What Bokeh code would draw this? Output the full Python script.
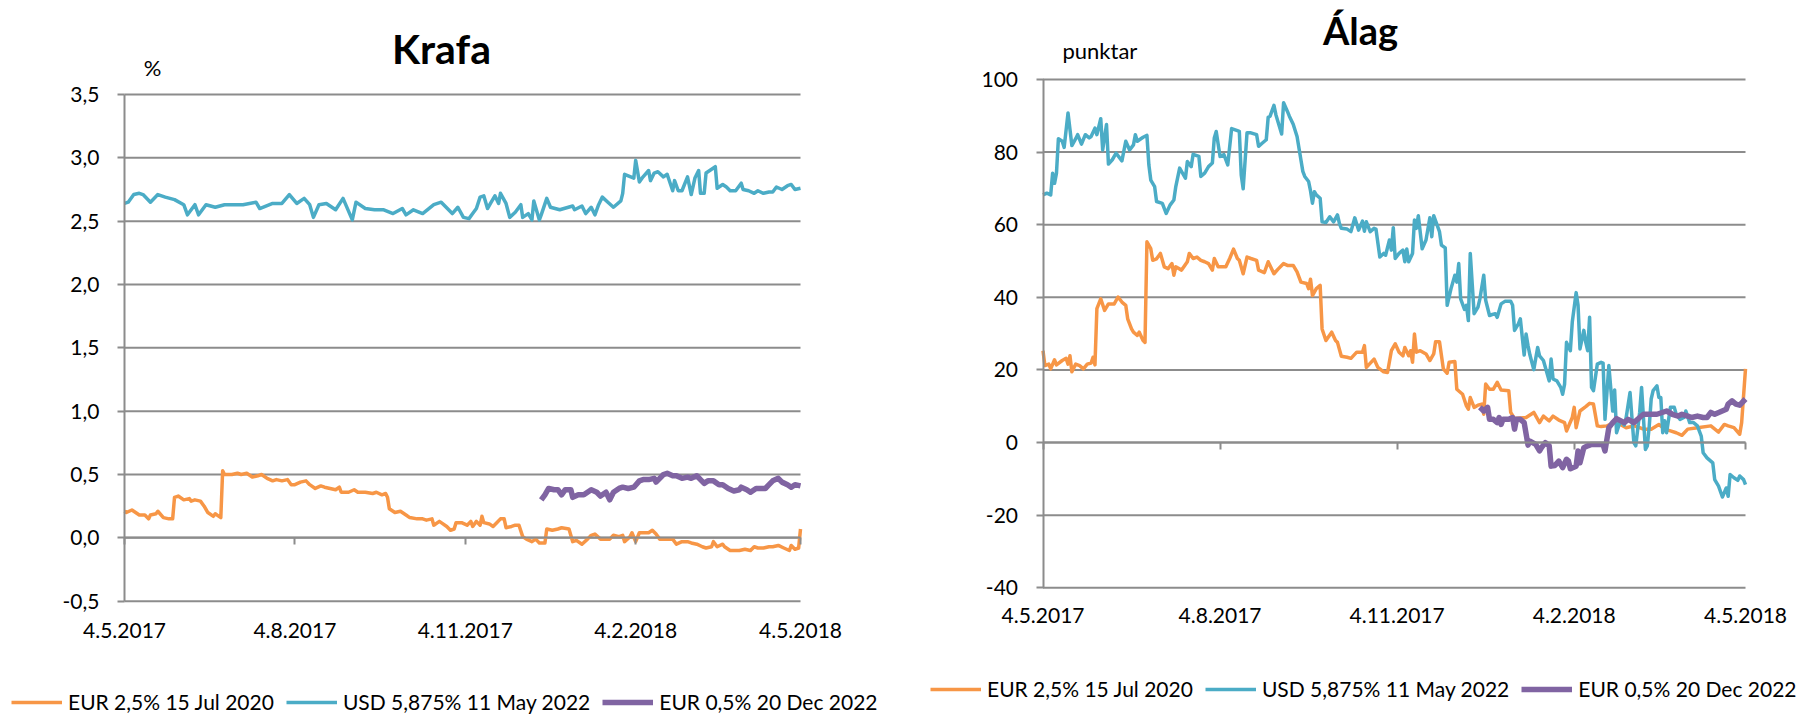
import pandas as pd
from bokeh.plotting import figure
from bokeh.models import Range1d, FixedTicker, LinearAxis, Legend, LegendItem, Label
from bokeh.layouts import row
from bokeh.embed import file_html
from bokeh.resources import INLINE

# ---------------- data ----------------
BASE_DATE = "2017-05-04"
x_tick_labels = ["4.5.2017", "4.8.2017", "4.11.2017", "4.2.2018", "4.5.2018"]

series_names = ["EUR 2,5% 15 Jul 2020", "USD 5,875% 11 May 2022", "EUR 0,5% 20 Dec 2022"]

krafa_y_ticks = [-0.5, 0.0, 0.5, 1.0, 1.5, 2.0, 2.5, 3.0, 3.5]
krafa_y_labels = ["-0,5", "0,0", "0,5", "1,0", "1,5", "2,0", "2,5", "3,0", "3,5"]
alag_y_ticks = [-40, -20, 0, 20, 40, 60, 80, 100]
alag_y_labels = ["-40", "-20", "0", "20", "40", "60", "80", "100"]

# Krafa (yield, %) - days after 4.5.2017
krafa_usd_day = [0, 2, 5, 8, 10, 14, 18, 22, 27, 32, 34, 38, 40, 44, 49, 54, 59, 64, 71, 73, 80, 85, 89, 93,
                 97, 100, 102, 105, 109, 114, 118, 123, 125, 130, 135, 140, 145, 150, 152, 156, 161, 167, 171,
                 177, 180, 183, 186, 188, 190, 192, 194, 196, 198, 200, 202, 203, 206, 208, 211, 214, 215, 218,
                 220, 221, 224, 225, 228, 230, 235, 242, 243, 247, 249, 252, 254, 256, 258, 261, 264, 268, 269,
                 270, 275, 276, 278, 280, 283, 284, 286, 288, 291, 293, 296, 297, 299, 301, 304, 306, 308, 310,
                 311, 313, 314, 319, 320, 323, 325, 327, 330, 333, 334, 337, 340, 342, 345, 348, 350, 352, 355,
                 358, 360, 362, 365]
krafa_usd = [2.64, 2.65, 2.71, 2.72, 2.71, 2.65, 2.71, 2.69, 2.67, 2.63, 2.55, 2.63, 2.55, 2.63, 2.61, 2.63,
             2.63, 2.63, 2.65, 2.60, 2.64, 2.64, 2.71, 2.64, 2.68, 2.63, 2.53, 2.63, 2.64, 2.59, 2.68, 2.51,
             2.65, 2.60, 2.59, 2.59, 2.56, 2.60, 2.55, 2.59, 2.56, 2.63, 2.65, 2.56, 2.61, 2.53, 2.52, 2.56,
             2.60, 2.69, 2.70, 2.60, 2.65, 2.70, 2.64, 2.72, 2.64, 2.53, 2.57, 2.63, 2.53, 2.56, 2.51, 2.66,
             2.51, 2.55, 2.68, 2.61, 2.59, 2.62, 2.59, 2.62, 2.56, 2.61, 2.55, 2.63, 2.69, 2.65, 2.61, 2.66,
             2.72, 2.87, 2.84, 2.98, 2.81, 2.85, 2.90, 2.82, 2.88, 2.89, 2.85, 2.87, 2.74, 2.82, 2.74, 2.74,
             2.85, 2.71, 2.84, 2.90, 2.72, 2.72, 2.88, 2.93, 2.76, 2.79, 2.77, 2.74, 2.74, 2.80, 2.75, 2.74,
             2.72, 2.74, 2.72, 2.73, 2.73, 2.77, 2.75, 2.78, 2.79, 2.75, 2.76]

krafa_eur20_day = [0, 1, 4, 6, 8, 11, 13, 14, 17, 18, 21, 24, 26, 27, 29, 32, 35, 36, 38, 41, 43, 45, 48, 49,
                   51, 52, 53, 54, 58, 61, 63, 66, 69, 72, 74, 77, 80, 82, 85, 88, 90, 92, 95, 98, 100, 103,
                   106, 108, 111, 114, 116, 117, 121, 124, 126, 130, 134, 136, 139, 141, 142, 143, 146, 149,
                   152, 154, 158, 161, 163, 166, 167, 170, 171, 174, 176, 178, 179, 182, 185, 187, 188, 190,
                   192, 193, 194, 197, 199, 201, 203, 205, 206, 209, 211, 213, 215, 217, 220, 222, 224, 227,
                   228, 231, 234, 236, 240, 242, 244, 247, 250, 252, 254, 257, 260, 262, 264, 267, 269, 270,
                   273, 274, 276, 278, 280, 283, 285, 287, 289, 296, 298, 301, 304, 306, 309, 312, 314, 317,
                   318, 320, 323, 324, 327, 330, 332, 335, 338, 340, 342, 345, 348, 350, 353, 356, 359, 360,
                   362, 364, 365]
krafa_eur20 = [0.21, 0.20, 0.22, 0.20, 0.18, 0.18, 0.15, 0.18, 0.19, 0.21, 0.16, 0.15, 0.15, 0.32, 0.33, 0.30,
               0.31, 0.29, 0.30, 0.29, 0.25, 0.20, 0.17, 0.19, 0.17, 0.16, 0.53, 0.50, 0.50, 0.51, 0.50, 0.51,
               0.48, 0.49, 0.50, 0.47, 0.45, 0.46, 0.45, 0.46, 0.42, 0.42, 0.44, 0.45, 0.42, 0.39, 0.41, 0.40,
               0.39, 0.38, 0.40, 0.36, 0.36, 0.38, 0.36, 0.36, 0.35, 0.36, 0.34, 0.35, 0.32, 0.23, 0.20, 0.21,
               0.18, 0.16, 0.15, 0.15, 0.14, 0.15, 0.10, 0.13, 0.12, 0.09, 0.06, 0.07, 0.12, 0.12, 0.10, 0.13,
               0.09, 0.13, 0.10, 0.17, 0.12, 0.11, 0.09, 0.12, 0.15, 0.15, 0.08, 0.09, 0.10, 0.10, 0.01, -0.01,
               -0.03, -0.01, -0.04, -0.04, 0.07, 0.06, 0.07, 0.08, 0.07, -0.03, -0.02, -0.05, -0.01, 0.02, 0.03,
               -0.01, -0.01, -0.01, 0.02, 0.01, 0.02, -0.03, 0.01, 0.04, -0.03, 0.04, 0.04, 0.04, 0.06, 0.03,
               -0.01, -0.01, -0.05, -0.03, -0.03, -0.04, -0.05, -0.07, -0.08, -0.07, -0.03, -0.07, -0.05, -0.07,
               -0.10, -0.10, -0.10, -0.09, -0.10, -0.07, -0.08, -0.08, -0.07, -0.07, -0.06, -0.08, -0.10, -0.06,
               -0.09, -0.08, 0.07]

krafa_eur22_day = [225, 227, 229, 232, 234, 236, 238, 241, 242, 245, 248, 250, 252, 255, 257, 260, 262, 264,
                   267, 269, 272, 275, 278, 280, 283, 286, 287, 289, 291, 293, 296, 298, 301, 304, 306, 309,
                   311, 313, 315, 318, 321, 323, 326, 329, 332, 333, 336, 338, 341, 343, 346, 348, 350, 353,
                   355, 358, 360, 362, 365]
krafa_eur22 = [0.30, 0.34, 0.39, 0.38, 0.38, 0.34, 0.38, 0.38, 0.32, 0.34, 0.34, 0.36, 0.38, 0.36, 0.33, 0.36,
               0.30, 0.36, 0.39, 0.40, 0.39, 0.40, 0.45, 0.46, 0.46, 0.47, 0.44, 0.47, 0.50, 0.51, 0.49, 0.49,
               0.47, 0.48, 0.47, 0.49, 0.46, 0.43, 0.45, 0.45, 0.42, 0.42, 0.39, 0.37, 0.38, 0.40, 0.38, 0.36,
               0.39, 0.39, 0.39, 0.42, 0.45, 0.47, 0.44, 0.42, 0.40, 0.42, 0.41]

# Álag (spread, points)
alag_usd_day = [0, 2, 4, 5, 6, 7, 8, 10, 11, 13, 15, 17, 18, 20, 22, 24, 25, 27, 28, 30, 31, 33, 34, 36, 38,
                41, 43, 45, 47, 48, 49, 52, 54, 55, 56, 58, 59, 62, 64, 66, 68, 69, 71, 74, 75, 77, 78, 81,
                82, 84, 86, 88, 89, 90, 92, 94, 96, 98, 101, 102, 103, 104, 106, 108, 111, 112, 114, 116,
                117, 118, 120, 121, 124, 125, 127, 128, 130, 132, 134, 135, 136, 138, 139, 140, 141, 142,
                144, 145, 147, 149, 151, 153, 154, 155, 158, 160, 162, 164, 166, 167, 168, 170, 172, 173,
                175, 177, 178, 180, 181, 182, 183, 185, 187, 188, 189, 190, 192, 193, 194, 195, 197, 199,
                201, 202, 203, 206, 207, 209, 210, 212, 214, 215, 216, 217, 219, 220, 221, 222, 224, 226,
                227, 229, 230, 232, 233, 235, 236, 238, 240, 243, 244, 245, 247, 248, 250, 251, 252, 253,
                255, 257, 258, 260, 263, 264, 265, 267, 269, 270, 271, 272, 274, 275, 277, 278, 279, 281,
                282, 283, 284, 285, 286, 288, 290, 291, 292, 294, 296, 297, 298, 300, 302, 303, 305, 307,
                308, 310, 311, 313, 314, 315, 316, 317, 319, 320, 321, 322, 323, 324, 326, 328, 329, 331,
                333, 334, 336, 338, 340, 342, 343, 345, 348, 349, 351, 353, 355, 356, 357, 359, 361, 362,
                364, 365]
alag_usd = [68.2, 68.7, 68.2, 74.2, 71.4, 74.2, 83.7, 83.0, 81.3, 90.8, 81.8, 83.7, 84.8, 82.2, 84.8, 83.9,
            84.3, 86.6, 84.8, 89.2, 80.6, 87.6, 76.7, 77.9, 79.7, 77.6, 83.0, 80.6, 82.0, 84.8, 83.0, 84.1,
            84.6, 76.5, 72.3, 70.5, 66.4, 65.9, 63.1, 65.4, 66.8, 70.5, 75.6, 72.8, 77.4, 76.0, 79.4, 78.8,
            73.3, 74.2, 76.0, 77.0, 83.9, 85.7, 78.8, 79.3, 76.5, 86.5, 85.9, 85.7, 73.7, 69.9, 85.3, 85.3,
            84.8, 81.6, 82.5, 83.4, 89.6, 89.9, 92.9, 90.3, 85.0, 93.6, 91.2, 89.9, 87.7, 84.3, 77.9, 74.7,
            73.3, 71.9, 69.3, 65.9, 69.1, 68.2, 67.3, 60.8, 60.6, 62.2, 60.8, 62.7, 60.4, 59.0, 58.8, 58.1,
            61.9, 58.5, 61.0, 58.2, 60.8, 58.1, 59.0, 58.8, 51.1, 52.1, 51.6, 55.8, 53.0, 59.2, 50.7, 52.1,
            53.0, 49.8, 53.3, 49.8, 52.1, 61.3, 59.0, 62.5, 53.4, 55.8, 61.9, 56.7, 62.5, 58.1, 54.4, 53.6,
            37.8, 42.4, 46.1, 44.2, 49.3, 39.6, 36.7, 37.8, 33.6, 52.1, 35.5, 37.3, 39.6, 46.1, 39.2, 35.0,
            35.2, 35.5, 34.5, 38.2, 38.9, 38.9, 37.8, 30.9, 32.7, 34.1, 24.1, 29.9, 26.7, 24.1, 20.1, 26.2,
            23.9, 22.6, 17.0, 23.0, 17.5, 17.0, 15.2, 13.3, 16.1, 27.6, 25.3, 33.2, 41.3, 37.8, 25.8, 30.9,
            27.6, 25.3, 34.5, 15.2, 14.3, 21.6, 22.1, 21.9, 6.4, 21.2, 8.7, 14.5, 2.7, 6.0, 4.8, 6.9, 13.8,
            0.0, -0.9, 8.3, 15.2, -1.9, -0.9, 4.6, 12.0, 14.3, 15.6, 12.4, 12.4, 2.7, 6.0, 2.7, 9.7, 9.7,
            7.8, 6.4, 6.9, 8.7, 5.5, 5.5, 4.6, 1.8, -2.8, -4.2, -5.6, -10.2, -12.0, -15.0, -12.5, -14.8,
            -8.8, -9.7, -10.4, -9.2, -10.2, -11.6]

alag_eur20_day = [0, 1, 3, 4, 6, 7, 10, 12, 13, 14, 15, 17, 19, 21, 23, 25, 26, 27, 28, 30, 32, 34, 37, 39,
                  41, 43, 44, 46, 47, 49, 50, 52, 53, 54, 56, 57, 59, 61, 63, 65, 67, 68, 69, 72, 75, 76, 78,
                  80, 82, 84, 86, 88, 89, 91, 95, 97, 99, 101, 102, 104, 106, 108, 111, 112, 115, 117, 120,
                  122, 125, 127, 130, 132, 134, 137, 138, 139, 140, 142, 144, 145, 147, 150, 152, 153, 155,
                  158, 160, 163, 166, 167, 168, 172, 174, 177, 179, 181, 183, 185, 187, 188, 190, 191, 192,
                  193, 194, 196, 199, 201, 203, 204, 206, 208, 210, 211, 214, 215, 218, 220, 221, 222, 224,
                  226, 228, 229, 230, 232, 234, 236, 238, 242, 243, 245, 251, 255, 258, 260, 263, 265, 268,
                  271, 272, 275, 276, 277, 279, 282, 284, 286, 288, 290, 293, 297, 300, 303, 307, 310, 312,
                  316, 320, 323, 326, 329, 332, 335, 340, 347, 351, 354, 356, 359, 362, 363, 365]
alag_eur20 = [25.3, 21.2, 21.6, 20.3, 22.8, 21.4, 22.6, 23.2, 21.6, 23.9, 19.5, 21.6, 21.2, 20.3, 21.6, 21.9,
              23.5, 21.4, 36.9, 39.6, 36.4, 38.2, 38.2, 40.1, 38.7, 37.8, 34.1, 31.3, 30.4, 29.5, 30.4, 28.1,
              27.6, 55.3, 53.4, 50.2, 50.6, 52.1, 48.4, 47.9, 49.3, 46.1, 48.4, 47.5, 49.8, 52.1, 50.7, 51.1,
              50.2, 49.8, 49.3, 47.5, 50.7, 48.4, 48.4, 50.7, 53.3, 50.7, 50.2, 46.5, 51.1, 50.7, 50.2, 47.5,
              46.8, 49.8, 46.5, 47.7, 49.3, 48.8, 48.8, 47.0, 44.2, 43.8, 42.4, 45.0, 40.5, 42.4, 43.3, 31.3,
              28.1, 30.4, 28.1, 27.6, 23.8, 23.5, 23.2, 24.9, 24.9, 26.7, 20.7, 23.0, 20.7, 19.5, 19.3, 25.3,
              27.2, 24.9, 23.9, 26.2, 23.9, 25.3, 22.1, 29.9, 24.9, 25.3, 24.4, 22.6, 24.4, 27.8, 27.8, 20.3,
              19.1, 22.1, 22.3, 14.7, 13.3, 10.1, 9.2, 12.4, 9.7, 10.3, 10.6, 7.8, 16.1, 14.7, 14.7, 16.6, 14.5,
              14.3, 8.3, 6.6, 6.9, 8.3, 5.5, 7.3, 6.0, 7.3, 6.2, 5.5, 3.2, 6.9, 9.7, 4.1, 8.7, 9.9, 10.8, 10.6,
              4.6, 4.4, 4.6, 5.5, 5.0, 4.1, 4.6, 4.1, 3.7, 3.7, 5.0, 3.7, 3.2, 2.7, 2.0, 3.7, 4.1, 4.6, 2.9,
              5.0, 4.6, 4.1, 2.3, 5.5, 20.3]

alag_eur22_day = [227, 229, 231, 232, 234, 236, 237, 238, 239, 242, 244, 245, 246, 248, 250, 252, 253, 256,
                  258, 259, 261, 263, 264, 266, 268, 270, 272, 273, 274, 277, 278, 279, 281, 283, 285, 291,
                  292, 294, 296, 298, 302, 304, 307, 310, 312, 319, 324, 327, 330, 332, 335, 337, 340, 343,
                  345, 347, 349, 352, 355, 356, 358, 360, 362, 365]
alag_eur22 = [9.7, 8.7, 9.7, 6.4, 6.4, 5.5, 6.9, 5.0, 6.4, 6.4, 6.9, 3.7, 6.4, 6.4, 5.5, -0.7, 0.4, -0.5,
              -2.3, -1.4, 0.0, -0.9, -6.5, -6.3, -5.1, -6.9, -4.6, -5.1, -7.2, -6.5, -2.3, -5.6, -1.4, -0.9,
              -0.5, -0.5, -2.3, 4.1, 5.5, 6.6, 5.5, 6.4, 5.5, 6.9, 7.8, 7.8, 8.7, 7.8, 7.3, 7.8, 7.3, 6.9,
              7.3, 6.9, 6.9, 8.3, 7.8, 8.5, 9.2, 10.6, 11.5, 10.6, 10.3, 12.0]

# ---------------- style ----------------
ORANGE = "#F79646"
BLUE = "#4BACC6"
PURPLE = "#8064A2"
GRID = "#8C8C8C"
FONT = "Lato"
H = 714

base = pd.Timestamp(BASE_DATE)
tick_days = [int((pd.to_datetime(s, format="%d.%m.%Y") - base).days) for s in x_tick_labels]


def range_from_pixels(pa, va, pb, vb, n):
    """Data range so that pixel pa shows va and pb shows vb on a canvas n px long."""
    k = (vb - va) / (pb - pa)
    return va - pa * k, va + (n - pa) * k


def make_chart(title, unit, width, px_axis, px_end, px_top, px_bottom, y_ticks, y_labels, series,
               title_xy, title_size, unit_xy, unit_align, legend_xy, x_standoff):
    x0, x1 = range_from_pixels(px_axis, tick_days[0], px_end, tick_days[-1], width)
    ytop, ybot = range_from_pixels(px_top, y_ticks[-1], px_bottom, y_ticks[0], H)
    p = figure(width=width, height=H, x_range=Range1d(x0, x1), y_range=Range1d(ybot, ytop), title=None,
               min_border=0, output_backend="svg", toolbar_location=None)
    p.outline_line_color = None
    p.background_fill_color = "white"
    p.border_fill_color = "white"
    p.xgrid.visible = False
    p.ygrid.visible = False

    # horizontal gridlines over the date span
    n = len(y_ticks)
    p.segment(x0=[tick_days[0]] * n, x1=[tick_days[-1]] * n, y0=y_ticks, y1=y_ticks,
              line_color=GRID, line_width=2)

    renderers = []
    for (xs, ys, color, lw) in series:
        renderers.append(p.line(xs, ys, line_color=color, line_width=lw, line_join="round"))

    # y axis at the first date
    yax = p.yaxis[0]
    yax.fixed_location = tick_days[0]
    yax.bounds = (y_ticks[0], y_ticks[-1])
    yax.ticker = FixedTicker(ticks=y_ticks)
    yax.major_label_overrides = {t: l for t, l in zip(y_ticks, y_labels)}
    yax.axis_line_color = GRID
    yax.axis_line_width = 2
    yax.major_tick_line_color = GRID
    yax.major_tick_line_width = 2
    yax.major_tick_out = 7
    yax.major_tick_in = 0
    yax.minor_tick_line_color = None
    yax.major_label_standoff = 18
    yax.major_label_text_font = FONT
    yax.major_label_text_font_size = "21px"
    yax.major_label_text_color = "black"

    # date labels under the lowest gridline
    xax = p.xaxis[0]
    xax.fixed_location = y_ticks[0]
    xax.ticker = FixedTicker(ticks=tick_days)
    xax.major_label_overrides = {d: l for d, l in zip(tick_days, x_tick_labels)}
    xax.axis_line_color = None
    xax.major_tick_line_color = None
    xax.minor_tick_line_color = None
    xax.major_tick_out = 0
    xax.major_tick_in = 0
    xax.major_label_standoff = x_standoff
    xax.major_label_text_font = FONT
    xax.major_label_text_font_size = "21px"
    xax.major_label_text_color = "black"

    # horizontal axis line crossing at zero with outside ticks
    ax0 = LinearAxis(ticker=FixedTicker(ticks=tick_days), fixed_location=0,
                     bounds=(tick_days[0], tick_days[-1]),
                     axis_line_color=GRID, axis_line_width=2,
                     major_tick_line_color=GRID, major_tick_line_width=2,
                     major_tick_out=7, major_tick_in=0, minor_tick_line_color=None,
                     major_label_text_alpha=0, major_label_text_font_size="1px")
    p.add_layout(ax0, "below")

    p.add_layout(Label(x=title_xy[0], y=title_xy[1], x_units="screen", y_units="screen", text=title,
                       text_font=FONT, text_font_style="bold", text_font_size=title_size,
                       text_align="center", text_baseline="alphabetic", text_color="black"))
    p.add_layout(Label(x=unit_xy[0], y=unit_xy[1], x_units="screen", y_units="screen", text=unit,
                       text_font=FONT, text_font_size="22px", text_align=unit_align,
                       text_baseline="alphabetic", text_color="black"))

    legend = Legend(items=[LegendItem(label=nm, renderers=[r]) for nm, r in zip(series_names, renderers)],
                    orientation="horizontal", location=legend_xy, glyph_width=51, glyph_height=20,
                    label_standoff=6, spacing=12, padding=0, margin=0, border_line_color=None,
                    background_fill_alpha=0, label_text_font=FONT, label_text_font_size="21px",
                    label_text_color="black", label_height=20)
    p.add_layout(legend)
    return p


p1 = make_chart("Krafa", "%", 900, 124, 800, 94, 600.7, krafa_y_ticks, krafa_y_labels,
                [(krafa_eur20_day, krafa_eur20, ORANGE, 3.5),
                 (krafa_usd_day, krafa_usd, BLUE, 3.5),
                 (krafa_eur22_day, krafa_eur22, PURPLE, 5.5)],
                (441, H - 48), "41px", (152, H - 67), "center", (11, 0), 22)

p2 = make_chart("Álag", "punktar", 903, 142.5, 845, 79, 587.3, alag_y_ticks, alag_y_labels,
                [(alag_eur20_day, alag_eur20, ORANGE, 3.5),
                 (alag_usd_day, alag_usd, BLUE, 3.5),
                 (alag_eur22_day, alag_eur22, PURPLE, 5.5)],
                (460, H - 29), "38px", (162, H - 50), "left", (30, 13), 20)

layout = row(p1, p2)
open("out.html", "w").write(file_html(layout, INLINE))
